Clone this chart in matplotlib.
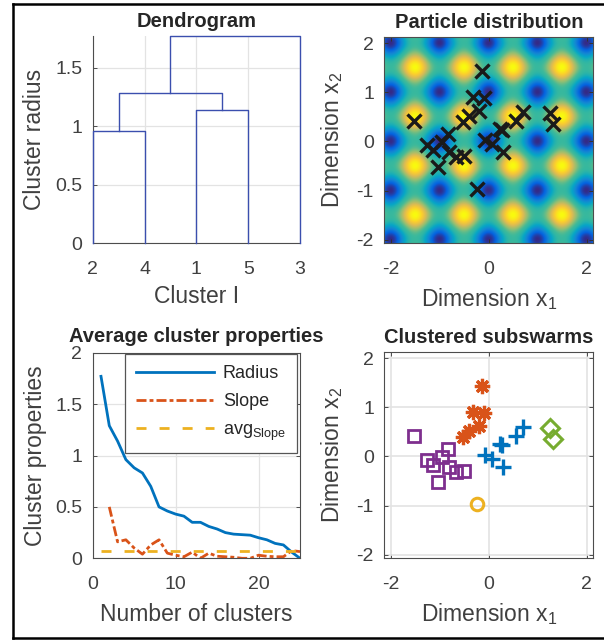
import numpy as np
import matplotlib
matplotlib.use("Agg")
import matplotlib.pyplot as plt
from matplotlib.colors import LinearSegmentedColormap
from matplotlib.lines import Line2D

plt.rcParams.update({
    "font.family": ["Liberation Sans", "DejaVu Sans"],
    "mathtext.fontset": "custom",
    "mathtext.rm": "Liberation Sans",
    "mathtext.it": "Liberation Sans:italic",
    "mathtext.bf": "Liberation Sans:bold",
    "axes.unicode_minus": False,
})

# ---------------- data ----------------
leaf_labels = ["2", "4", "1", "5", "3"]
merge_pairs = [(0, 1), (2, 3), (5, 6), (7, 4)]
merge_heights = [0.957, 1.135, 1.285, 1.77]

# particle clusters
orange_x = [-0.14, -0.32, -0.10, -0.20, -0.41, -0.53]
orange_y = [1.43, 0.90, 0.88, 0.61, 0.51, 0.40]
blue_x = [-0.08, 0.06, 0.28, 0.22, 0.26, 0.56, 0.69]
blue_y = [0.03, -0.05, -0.22, 0.26, 0.23, 0.42, 0.60]
green_x = [1.24, 1.31]
green_y = [0.58, 0.35]
purple_x = [-1.52, -1.25, -1.13, -0.95, -0.84, -0.82, -1.03, -0.66, -0.51]
purple_y = [0.42, -0.08, -0.17, -0.01, 0.16, -0.21, -0.51, -0.32, -0.30]
yellow_x = [-0.24]
yellow_y = [-0.96]

n_clusters = np.arange(1, 26)
radius = [1.77, 1.29, 1.14, 0.96, 0.88, 0.83, 0.70, 0.50, 0.46, 0.43, 0.41,
          0.35, 0.35, 0.31, 0.285, 0.25, 0.235, 0.23, 0.225, 0.20, 0.18,
          0.145, 0.13, 0.06, 0.0]
slope_n = np.arange(2, 26)
slope = [0.50, 0.16, 0.18, 0.10, 0.04, 0.13, 0.18, 0.05, 0.03, 0.015, 0.06,
         0.0, 0.05, 0.02, 0.015, 0.01, 0.0, 0.0, 0.03, 0.02, 0.015, 0.015,
         0.075, 0.065]
avg_slope = 0.075

# ---------------- style ----------------
W, H = 604, 640
TXT = "#262626"
LBL = "#404040"
GRID = "#e3e3e3"
SPINE = "#4d4d4d"
C_BLUE = "#0072BD"
C_ORANGE = "#D95319"
C_YELLOW = "#EDB120"
C_PURPLE = "#7E2F8E"
C_GREEN = "#77AC30"
C_DENDRO = "#3b4fae"
TICK_FS = 14
LABEL_FS = 16.5
TITLE_FS = 14.5

parula_anchors = [
    (0.2081, 0.1663, 0.5292), (0.0117, 0.3875, 0.8820), (0.0793, 0.5200, 0.8312),
    (0.0228, 0.6535, 0.7768), (0.2178, 0.7250, 0.6193), (0.5709, 0.7485, 0.4494),
    (0.8507, 0.7299, 0.3360), (0.9880, 0.8066, 0.1794), (0.9763, 0.9831, 0.0538)]
parula = LinearSegmentedColormap.from_list("parula", parula_anchors, N=256)

fig = plt.figure(figsize=(W / 100, H / 100), dpi=100)


def box(l, r, t, b):
    return [l / W, 1 - b / H, (r - l) / W, (b - t) / H]


def style_axes(ax, boxed=True):
    for s in ax.spines.values():
        s.set_color(SPINE)
        s.set_linewidth(0.8)
    if not boxed:
        ax.spines["top"].set_visible(False)
        ax.spines["right"].set_visible(False)
    ax.tick_params(direction="in", length=3, width=0.7, colors=SPINE,
                   labelcolor=LBL, labelsize=TICK_FS,
                   top=boxed, right=boxed)
    ax.tick_params(axis="x", pad=12.5)
    ax.tick_params(axis="y", pad=7.5)
    ax.set_axisbelow(True)


def ylab(ax, text, x):
    ax.set_ylabel(text, fontsize=LABEL_FS, color=LBL)
    ax.yaxis.set_label_coords(x, 0.5)


def xlab(ax, text, y):
    ax.set_xlabel(text, fontsize=LABEL_FS, color=LBL)
    ax.xaxis.set_label_coords(0.5, y)


# ---------------- Dendrogram ----------------
ax1 = fig.add_axes(box(92.7, 300, 36, 243.3))
style_axes(ax1, boxed=False)
node_x = list(np.arange(1, len(leaf_labels) + 1, dtype=float))
node_h = [0.0] * len(leaf_labels)
for (a, b), h in zip(merge_pairs, merge_heights):
    ax1.plot([node_x[a], node_x[a], node_x[b], node_x[b]],
             [node_h[a], h, h, node_h[b]], color=C_DENDRO, lw=1.0,
             clip_on=False, zorder=3)
    node_x.append((node_x[a] + node_x[b]) / 2)
    node_h.append(h)
ax1.set_xlim(1, len(leaf_labels))
ax1.set_ylim(0, max(merge_heights))
ax1.set_xticks(np.arange(1, len(leaf_labels) + 1))
ax1.set_xticklabels(leaf_labels)
ax1.set_yticks([0, 0.5, 1, 1.5])
ax1.set_yticklabels(["0", "0.5", "1", "1.5"])
ax1.grid(True, color=GRID, lw=0.9)
ax1.set_title("Dendrogram", fontsize=TITLE_FS, fontweight="bold", color=TXT, pad=6.5)
ylab(ax1, "Cluster radius", -0.226)
xlab(ax1, "Cluster I", -0.2)

# ---------------- Particle distribution ----------------
all_x = orange_x + blue_x + green_x + purple_x + yellow_x
all_y = orange_y + blue_y + green_y + purple_y + yellow_y
XL = (-2.13, 2.13)
YL = (-2.07, 2.13)
ax2 = fig.add_axes(box(384.3, 593.3, 36.7, 243.3))
style_axes(ax2, boxed=True)
period = 1.0
contrast = 1.35
gx = np.linspace(-2.2, 2.2, 500)
GX, GY = np.meshgrid(gx, gx)
g = -(np.cos(2 * np.pi * GX / period) + np.cos(2 * np.pi * GY / period)) / 2
field = np.sign(g) * np.abs(g) ** contrast
ax2.imshow(field, extent=(-2.2, 2.2, -2.2, 2.2), origin="lower", cmap=parula,
           interpolation="bilinear", aspect="auto", zorder=0, vmin=-1, vmax=1)
ax2.plot(all_x, all_y, "x", color="#1a1a1a", ms=9.5, mew=2.4, zorder=3)
ax2.set_xlim(*XL)
ax2.set_ylim(*YL)
ax2.set_xticks([-2, 0, 2])
ax2.set_yticks([-2, -1, 0, 1, 2])
ax2.tick_params(colors="#333333", labelcolor=LBL)
ax2.set_title("Particle distribution", fontsize=TITLE_FS, fontweight="bold", color=TXT, pad=6.5)
ylab(ax2, "Dimension x$_2$", -0.19)
xlab(ax2, "Dimension x$_1$", -0.205)

# ---------------- Average cluster properties ----------------
ax3 = fig.add_axes(box(92.7, 300, 352.7, 558.3))
style_axes(ax3, boxed=True)
ax3.plot(n_clusters, radius, color=C_BLUE, lw=2.0, label="Radius")
ax3.plot(slope_n, slope, color=C_ORANGE, lw=2.0, dashes=(3.6, 1.1, 1.4, 1.1),
         label="Slope")
ax3.plot([n_clusters[0], n_clusters[-1]], [avg_slope, avg_slope], color=C_YELLOW,
         lw=2.0, dashes=(3.6, 4.7), label="avg$_{\\mathrm{Slope}}$")
ax3.set_xlim(0, 25)
ax3.set_ylim(0, 2)
ax3.set_xticks([0, 10, 20])
ax3.set_yticks([0, 0.5, 1, 1.5, 2])
ax3.set_yticklabels(["0", "0.5", "1", "1.5", "2"])
ax3.grid(True, color=GRID, lw=0.9)
ax3.set_title("Average cluster properties", fontsize=TITLE_FS, fontweight="bold",
              color=TXT, pad=7.5)
ylab(ax3, "Cluster properties", -0.222)
xlab(ax3, "Number of clusters", -0.215)
leg = ax3.legend(loc="upper right", bbox_to_anchor=(0.984, 0.992), borderaxespad=0,
                 fontsize=13, handlelength=4.3, handletextpad=0.5, labelspacing=0.62,
                 borderpad=0.6, fancybox=False, framealpha=1, edgecolor="#555555")
leg.get_frame().set_linewidth(0.9)
for t in leg.get_texts():
    t.set_color(TXT)

# ---------------- Clustered subswarms ----------------
ax4 = fig.add_axes(box(384.3, 593.3, 351.7, 558.3))
style_axes(ax4, boxed=True)
ax4.plot(purple_x, purple_y, "s", color=C_PURPLE, mfc="none", ms=8.5, mew=2.0)
ax4.plot(orange_x, orange_y, marker=(8, 2, 0), ls="none", color=C_ORANGE, ms=11, mew=2.3)
ax4.plot(blue_x, blue_y, "+", color=C_BLUE, ms=11, mew=2.4)
ax4.plot(green_x, green_y, "D", color=C_GREEN, mfc="none", ms=9, mew=2.2)
ax4.plot(yellow_x, yellow_y, "o", color=C_YELLOW, mfc="none", ms=9, mew=2.2)
ax4.set_xlim(*XL)
ax4.set_ylim(*YL)
ax4.set_xticks([-2, 0, 2])
ax4.set_yticks([-2, -1, 0, 1, 2])
ax4.grid(True, color=GRID, lw=1.2)
ax4.set_title("Clustered subswarms", fontsize=TITLE_FS, fontweight="bold", color=TXT, pad=6.5)
ylab(ax4, "Dimension x$_2$", -0.19)
xlab(ax4, "Dimension x$_1$", -0.205)

# ---------------- outer frame ----------------
lw_frame = 1.8
fig.add_artist(Line2D([13 / W, 13 / W], [1 - 638 / H, 1 - 4 / H], color="black",
                      lw=lw_frame, solid_capstyle="projecting"))
fig.add_artist(Line2D([13 / W, 1.0], [1 - 4 / H, 1 - 4 / H], color="black", lw=lw_frame))
fig.add_artist(Line2D([13 / W, 1.0], [1 - 638 / H, 1 - 638 / H], color="black", lw=lw_frame))

fig.savefig("out.png", dpi=100)
